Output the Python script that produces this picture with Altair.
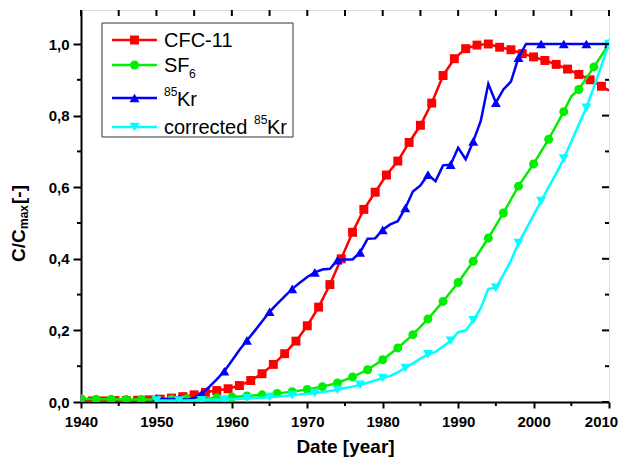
import altair as alt
import pandas as pd

# ---------------- data ----------------
cfc_years = [1940, 1941.5, 1943, 1944.5, 1946, 1947.5, 1949, 1950.5, 1952, 1953.5,
             1955, 1956.5, 1958, 1959.5, 1961, 1962.5, 1964, 1965.5, 1967, 1968.5,
             1970, 1971.5, 1973, 1974.5, 1976, 1977.5, 1979, 1980.5, 1982, 1983.5,
             1985, 1986.5, 1988, 1989.5, 1991, 1992.5, 1994, 1995.5, 1997, 1998.5,
             2000, 2001.5, 2003, 2004.5, 2006, 2007.5, 2009]
cfc_values = [0.003, 0.003, 0.003, 0.004, 0.004, 0.005, 0.006, 0.008, 0.011, 0.015,
              0.020, 0.027, 0.032, 0.037, 0.046, 0.060, 0.079, 0.105, 0.135, 0.170,
              0.213, 0.265, 0.328, 0.400, 0.474, 0.538, 0.586, 0.634, 0.673, 0.725,
              0.773, 0.835, 0.912, 0.959, 0.987, 0.997, 1.000, 0.991, 0.984, 0.973,
              0.964, 0.954, 0.943, 0.930, 0.915, 0.900, 0.882]
cfc_end_year = [2010]
cfc_end_value = [0.870]

sf6_years = [1940, 1942, 1944, 1946, 1948, 1950, 1952, 1954, 1956, 1958,
             1960, 1962, 1964, 1966, 1968, 1970, 1972, 1974, 1976, 1978,
             1980, 1982, 1984, 1986, 1988, 1990, 1992, 1994, 1996, 1998,
             2000, 2002, 2004, 2005, 2006, 2008, 2010]
sf6_values = [0.009, 0.008, 0.008, 0.007, 0.007, 0.007, 0.008, 0.009, 0.010, 0.012,
              0.014, 0.017, 0.020, 0.024, 0.029, 0.035, 0.043, 0.053, 0.070, 0.090,
              0.118, 0.151, 0.188, 0.232, 0.281, 0.334, 0.393, 0.458, 0.528, 0.603,
              0.665, 0.734, 0.811, 0.854, 0.873, 0.936, 1.000]

kr_years = [1950, 1951, 1952, 1953, 1954, 1955, 1956, 1957, 1958, 1959,
            1960, 1961, 1962, 1963, 1964, 1965, 1966, 1967, 1968, 1969,
            1970, 1971, 1972, 1973, 1974, 1975, 1976, 1977, 1978, 1979,
            1980, 1981, 1982, 1983, 1984, 1985, 1986, 1987, 1988, 1989,
            1990, 1991, 1992, 1993, 1994, 1995, 1996, 1997, 1998, 1999,
            2000, 2001, 2002, 2003, 2004, 2005, 2006, 2007, 2008, 2009, 2010]
kr_values = [0.010, 0.008, 0.008, 0.010, 0.006, 0.011, 0.023, 0.042, 0.063, 0.086,
             0.115, 0.145, 0.172, 0.198, 0.225, 0.252, 0.274, 0.295, 0.316, 0.333,
             0.349, 0.362, 0.370, 0.372, 0.396, 0.398, 0.398, 0.418, 0.456, 0.457,
             0.481, 0.496, 0.505, 0.542, 0.588, 0.605, 0.635, 0.617, 0.661, 0.663,
             0.710, 0.678, 0.728, 0.785, 0.889, 0.836, 0.873, 0.895, 0.962, 1.000,
             1.000, 1.000, 1.000, 1.000, 1.000, 1.000, 1.000, 1.000, 1.000, 1.000, 1.000]

kr_corr_years = kr_years
kr_corr_values = [0.004, 0.004, 0.004, 0.004, 0.004, 0.005, 0.005, 0.006, 0.006, 0.007,
                  0.008, 0.009, 0.010, 0.011, 0.012, 0.014, 0.015, 0.017, 0.019, 0.021,
                  0.023, 0.025, 0.028, 0.031, 0.034, 0.039, 0.043, 0.048, 0.054, 0.060,
                  0.067, 0.073, 0.083, 0.095, 0.108, 0.121, 0.133, 0.140, 0.155, 0.171,
                  0.195, 0.200, 0.228, 0.262, 0.316, 0.319, 0.355, 0.395, 0.444, 0.482,
                  0.522, 0.561, 0.600, 0.638, 0.680, 0.727, 0.775, 0.822, 0.880, 0.940, 1.000]

x_major = [1940, 1950, 1960, 1970, 1980, 1990, 2000, 2010]
x_minor = [1945, 1955, 1965, 1975, 1985, 1995, 2005]
y_major = [0.0, 0.2, 0.4, 0.6, 0.8, 1.0]
y_minor = [0.1, 0.3, 0.5, 0.7, 0.9]

legend_labels = ["CFC-11", "SF", "Kr", "corrected"]
colors = {"cfc": "#FF0000", "sf6": "#00EE00", "kr": "#0000FF", "krc": "#00FFFF"}

# ---------------- layout ----------------
W, H = 528, 392
FONT = "Liberation Sans"

xscale = alt.Scale(domain=[1940, 2010], nice=False, zero=False)
yscale = alt.Scale(domain=[0, 1.095], nice=False, zero=False)

xaxis = alt.Axis(values=x_major, format="d", labelFont=FONT, labelFontSize=15,
                 labelFontWeight="bold", labelColor="black", labelFlush=False,
                 labelOverlap=False, labelPadding=6,
                 labelOffset={"condition": {"test": "datum.value == 2010", "value": -8}, "value": 0},
                 tickSize=6, tickWidth=2,
                 tickColor="black", domainColor="black", domainWidth=2, grid=False,
                 title="Date [year]", titleFont=FONT, titleFontSize=19,
                 titleFontWeight="bold", titleColor="black", titlePadding=8)
yaxis = alt.Axis(values=y_major, labelExpr="replace(format(datum.value, '.1f'), '.', ',')",
                 labelFont=FONT, labelFontSize=15, labelFontWeight="bold",
                 labelColor="black", labelFlush=False, labelOverlap=False,
                 labelPadding=4, tickSize=8, tickWidth=2, tickColor="black",
                 domainColor="black", domainWidth=2, grid=False, title=None)

X = alt.X("year:Q", scale=xscale, axis=xaxis)
Y = alt.Y("value:Q", scale=yscale, axis=yaxis)


def frame(years, values):
    return pd.DataFrame({"year": years, "value": values})


def series_layers(line_df, mark_df, color, shape, size):
    line = alt.Chart(line_df).mark_line(color=color, strokeWidth=2.5, clip=True).encode(x=X, y=Y)
    pts = alt.Chart(mark_df).mark_point(shape=shape, filled=True, size=size, color=color,
                                        opacity=1, clip=True).encode(x=X, y=Y)
    return [line, pts]


cfc_line = frame(cfc_years + cfc_end_year, cfc_values + cfc_end_value)
cfc_pts = frame(cfc_years, cfc_values)
sf6_line = frame(sf6_years, sf6_values)
sf6_pts = sf6_line[sf6_line["year"] % 2 == 0]
kr_line = frame(kr_years, kr_values)
kr_pts = kr_line[(kr_line["year"] - 1950) % 3 == 0]
krc_line = frame(kr_corr_years, kr_corr_values)
krc_pts = krc_line[(krc_line["year"] - 1950) % 3 == 0]

SQ, CI, TR = 80, 80, 100
layers = []
layers += series_layers(cfc_line, cfc_pts, colors["cfc"], "square", SQ)
layers += series_layers(sf6_line, sf6_pts, colors["sf6"], "circle", CI)
layers += series_layers(kr_line, kr_pts, colors["kr"], "triangle-up", TR)
layers += series_layers(krc_line, krc_pts, colors["krc"], "triangle-down", TR)

# ---- extra ticks: minor ticks outside, mirrored ticks inside on top/right ----
xmin_df = pd.DataFrame({"year": x_minor})
xall_df = pd.DataFrame({"year": x_major + x_minor})
ymin_df = pd.DataFrame({"value": y_minor})
ymaj_df = pd.DataFrame({"value": y_major})

tick_style = dict(color="black", strokeWidth=2)
layers.append(alt.Chart(xmin_df).mark_rule(**tick_style).encode(x=X, y=alt.value(H), y2=alt.value(H + 4)))
layers.append(alt.Chart(xall_df).mark_rule(**tick_style).encode(x=X, y=alt.value(0), y2=alt.value(6)))
layers.append(alt.Chart(ymin_df).mark_rule(**tick_style).encode(y=Y, x=alt.value(-4), x2=alt.value(0)))
layers.append(alt.Chart(ymaj_df).mark_rule(**tick_style).encode(y=Y, x=alt.value(W - 7), x2=alt.value(W)))
layers.append(alt.Chart(ymin_df).mark_rule(**tick_style).encode(y=Y, x=alt.value(W - 4), x2=alt.value(W)))

# ---- legend (drawn by hand to get the line+marker symbols and sub/superscripts) ----
one = pd.DataFrame({"k": [0]})
layers.append(alt.Chart(one).mark_rect(fill="white", stroke="#333333", strokeWidth=1).encode(
    x=alt.value(21), x2=alt.value(212), y=alt.value(13), y2=alt.value(127)))
rows = [(30, colors["cfc"], "square", SQ), (55, colors["sf6"], "circle", CI),
        (88, colors["kr"], "triangle-up", TR), (117, colors["krc"], "triangle-down", TR)]
for ry, col, shp, sz in rows:
    layers.append(alt.Chart(one).mark_rule(color=col, strokeWidth=2.5).encode(
        x=alt.value(31), x2=alt.value(76), y=alt.value(ry)))
    layers.append(alt.Chart(one).mark_point(shape=shp, filled=True, size=sz, color=col, opacity=1).encode(
        x=alt.value(53.5), y=alt.value(ry)))


def txt(s, x, y, size, weight="normal", angle=0, align="left"):
    return alt.Chart(one).mark_text(text=s, font=FONT, fontSize=size, fontWeight=weight,
                                    color="black", align=align, baseline="middle",
                                    angle=angle).encode(x=alt.value(x), y=alt.value(y))


layers.append(txt(legend_labels[0], 83, 31, 20))
layers.append(txt(legend_labels[1], 83, 56, 20))
layers.append(txt("6", 108, 64, 12))
layers.append(txt("85", 83, 82, 12))
layers.append(txt(legend_labels[2], 96, 90, 20))
layers.append(txt(legend_labels[3], 83, 118, 20))
layers.append(txt("85", 173, 110, 12))
layers.append(txt(legend_labels[2], 186, 118, 20))

# ---- y-axis title with subscript ----
layers.append(txt("C/C", -62, 252, 19, "bold", 270))
layers.append(txt("max", -57, 219, 12, "bold", 270))
layers.append(txt("[-]", -62, 194, 19, "bold", 270))

chart = alt.layer(*layers).properties(
    width=W, height=H, autosize="none",
    padding={"left": 73, "top": 2, "right": 9, "bottom": 56},
).configure_view(stroke="black", strokeWidth=2).configure(background="white")

chart.save("out.html", embed_options={"renderer": "svg", "actions": False})
